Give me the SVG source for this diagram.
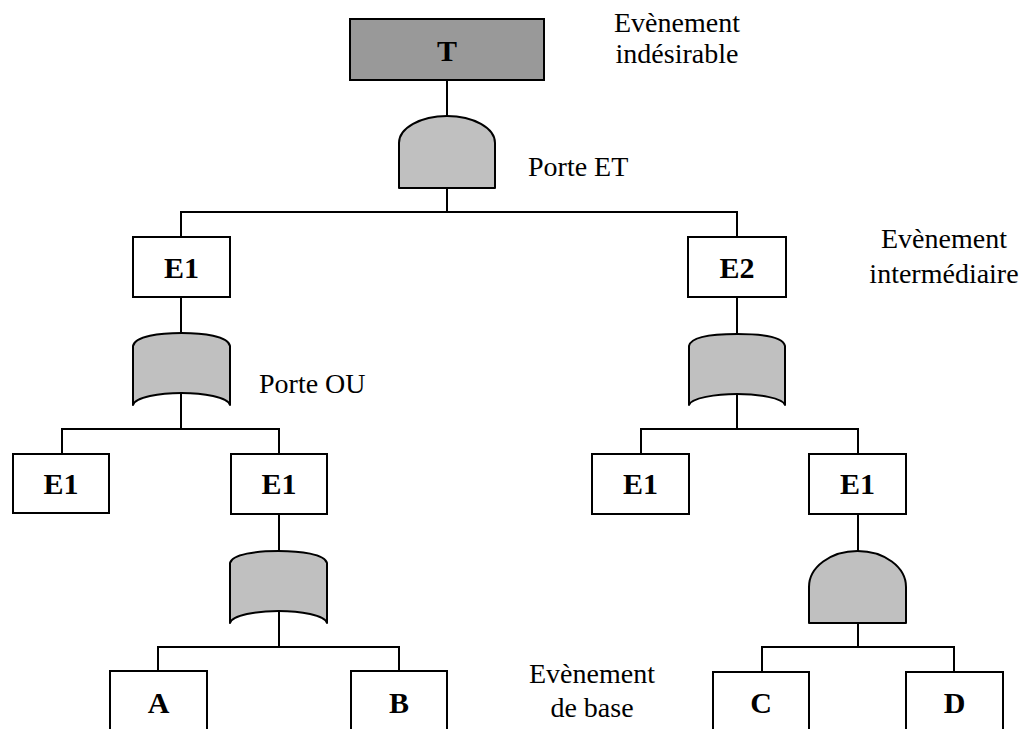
<svg xmlns="http://www.w3.org/2000/svg" width="1024" height="729" viewBox="0 0 1024 729">
<style>
.box{fill:#fff;stroke:#000;stroke-width:2}
.top{fill:#999;stroke:#000;stroke-width:2}
.gate{fill:#c0c0c0;stroke:#000;stroke-width:2;stroke-linejoin:round}
.lbl{font-family:"Liberation Serif","Times New Roman",serif;font-weight:bold;font-size:30px;text-anchor:middle;fill:#000}
.note{font-family:"Liberation Serif","Times New Roman",serif;font-size:28px;fill:#000}
.c{text-anchor:middle}
#connectors path{fill:none;stroke:#000;stroke-width:2}
</style>
<rect width="1024" height="729" fill="#fff"/>
<g id="connectors">
<path d="M447,80V116M447,188V212M181,237V212H737V237"/>
<path d="M181,297V333M181,393V429M62,454V429H279V454"/>
<path d="M279,514V551M279,611V647M158,671V647H399V671"/>
<path d="M737,297V334M737,394V429M641,454V429H858V454"/>
<path d="M858,514V551M858,623V647M762,672V647H954V672"/>
</g>
<g id="T"><rect class="top" x="350" y="19" width="194" height="61"/><text class="lbl" x="447" y="61">T</text></g>
<g id="gateET"><path class="gate" d="M399,188V143A48,27 0 0 1 495,143V188Z"/></g>
<g id="E1a"><rect class="box" x="133" y="237" width="97" height="60"/><text class="lbl" x="181.5" y="278">E1</text></g>
<g id="E2"><rect class="box" x="688" y="237" width="98" height="60"/><text class="lbl" x="737" y="278">E2</text></g>
<g id="gateOU1"><path class="gate" d="M133,346C135,336 160,333 181.5,333C203,333 228,336 230,346V405C228,397 203,393 181.5,393C160,393 135,397 133,405Z"/></g>
<g id="gateOU2"><path class="gate" d="M689,346C691,336 716,334 737,334C758,334 783,336 785,346V405C783,398 758,394 737,394C716,394 691,398 689,405Z"/></g>
<g id="E1b"><rect class="box" x="13" y="454" width="96" height="59"/><text class="lbl" x="61" y="494">E1</text></g>
<g id="E1c"><rect class="box" x="231" y="454" width="96" height="60"/><text class="lbl" x="279" y="494">E1</text></g>
<g id="E1d"><rect class="box" x="592" y="454" width="97" height="60"/><text class="lbl" x="640.5" y="494">E1</text></g>
<g id="E1e"><rect class="box" x="809" y="454" width="97" height="60"/><text class="lbl" x="857.5" y="494">E1</text></g>
<g id="gateOU3"><path class="gate" d="M230,563C232,554 257,551 278.5,551C300,551 325,554 327,563V623C325,615 300,611 278.5,611C257,611 232,615 230,623Z"/></g>
<g id="gateET2"><path class="gate" d="M809,623V587A48.5,36 0 0 1 906,587V623Z"/></g>
<g id="A"><path class="box" d="M110,740V671H207V740"/><text class="lbl" x="158.5" y="713">A</text></g>
<g id="B"><path class="box" d="M351,740V671H447V740"/><text class="lbl" x="399" y="713">B</text></g>
<g id="C"><path class="box" d="M713,740V672H809V740"/><text class="lbl" x="761" y="713">C</text></g>
<g id="D"><path class="box" d="M906,740V672H1003V740"/><text class="lbl" x="954.5" y="713">D</text></g>
<g id="notes">
<text class="note c" x="677" y="32">Evènement</text>
<text class="note c" x="677" y="63">indésirable</text>
<text class="note" x="528" y="176">Porte ET</text>
<text class="note c" x="944" y="248">Evènement</text>
<text class="note c" x="944" y="283">intermédiaire</text>
<text class="note" x="259" y="393">Porte OU</text>
<text class="note c" x="592" y="683">Evènement</text>
<text class="note c" x="592" y="717">de base</text>
</g>
</svg>
